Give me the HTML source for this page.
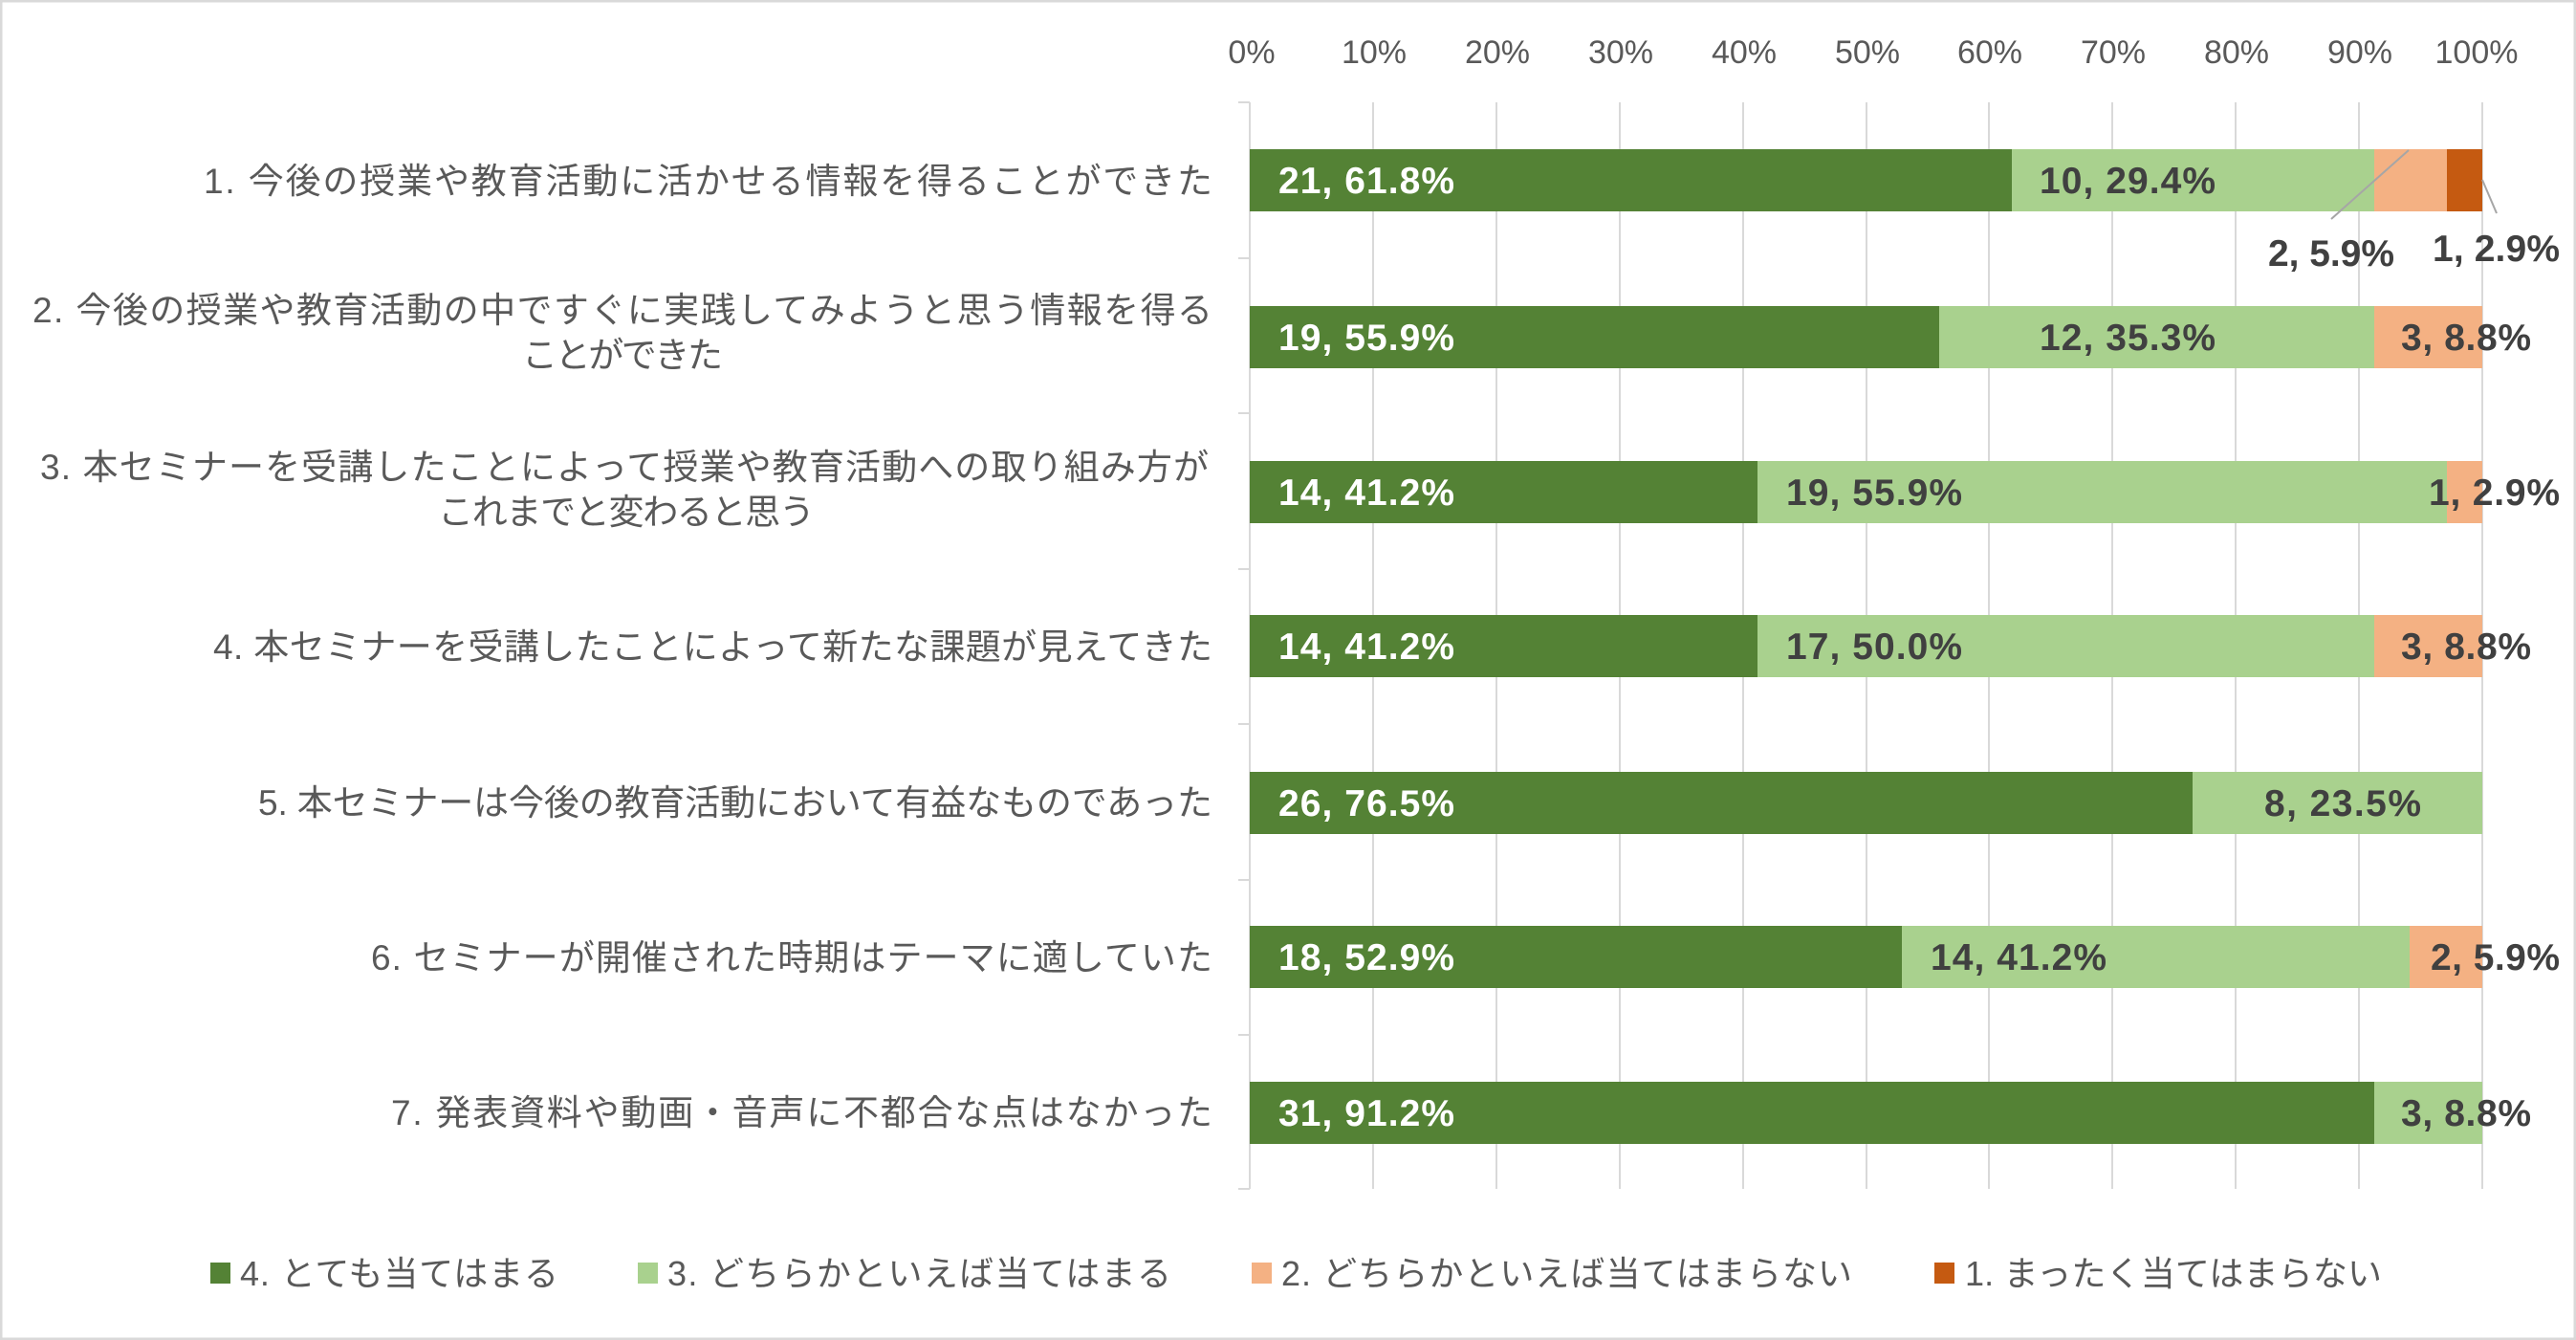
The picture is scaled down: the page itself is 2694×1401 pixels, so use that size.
<!DOCTYPE html>
<html><head><meta charset="utf-8"><style>
html,body{margin:0;padding:0;background:#fff}
svg{display:block}
text{font-family:"Liberation Sans","Noto Sans CJK JP",sans-serif}
</style></head><body>
<svg width="2694" height="1401" viewBox="0 0 2694 1401" xmlns="http://www.w3.org/2000/svg">
<rect x="1" y="1" width="2692" height="1399" fill="#fff" stroke="#d9d9d9" stroke-width="3"/>
<g stroke="#d9d9d9" stroke-width="2">
<line x1="1436" y1="107" x2="1436" y2="1243"/><line x1="1565" y1="107" x2="1565" y2="1243"/>
<line x1="1694" y1="107" x2="1694" y2="1243"/><line x1="1823" y1="107" x2="1823" y2="1243"/>
<line x1="1952" y1="107" x2="1952" y2="1243"/><line x1="2080" y1="107" x2="2080" y2="1243"/>
<line x1="2209" y1="107" x2="2209" y2="1243"/><line x1="2338" y1="107" x2="2338" y2="1243"/>
<line x1="2467" y1="107" x2="2467" y2="1243"/><line x1="2596" y1="107" x2="2596" y2="1243"/>
<line x1="1307" y1="107" x2="1307" y2="1243"/>
<line x1="1295" y1="107" x2="1307" y2="107"/><line x1="1295" y1="270" x2="1307" y2="270"/>
<line x1="1295" y1="432" x2="1307" y2="432"/><line x1="1295" y1="595" x2="1307" y2="595"/>
<line x1="1295" y1="757" x2="1307" y2="757"/><line x1="1295" y1="920" x2="1307" y2="920"/>
<line x1="1295" y1="1082" x2="1307" y2="1082"/><line x1="1295" y1="1243" x2="1307" y2="1243"/>
</g>
<g font-size="34" fill="#595959" text-anchor="middle">
<text x="1309" y="66">0%</text><text x="1437" y="66">10%</text><text x="1566" y="66">20%</text>
<text x="1695" y="66">30%</text><text x="1824" y="66">40%</text><text x="1953" y="66">50%</text>
<text x="2081" y="66">60%</text><text x="2210" y="66">70%</text><text x="2339" y="66">80%</text>
<text x="2468" y="66">90%</text><text x="2590" y="66">100%</text>
</g>
<g>
<rect x="1307" y="156" width="797" height="65" fill="#548235"/><rect x="2104" y="156" width="379" height="65" fill="#A9D18E"/><rect x="2483" y="156" width="76" height="65" fill="#F4B183"/><rect x="2559" y="156" width="37" height="65" fill="#C55A11"/>
<rect x="1307" y="320" width="721" height="65" fill="#548235"/><rect x="2028" y="320" width="455" height="65" fill="#A9D18E"/><rect x="2483" y="320" width="113" height="65" fill="#F4B183"/>
<rect x="1307" y="482" width="531" height="65" fill="#548235"/><rect x="1838" y="482" width="721" height="65" fill="#A9D18E"/><rect x="2559" y="482" width="37" height="65" fill="#F4B183"/>
<rect x="1307" y="643" width="531" height="65" fill="#548235"/><rect x="1838" y="643" width="645" height="65" fill="#A9D18E"/><rect x="2483" y="643" width="113" height="65" fill="#F4B183"/>
<rect x="1307" y="807" width="986" height="65" fill="#548235"/><rect x="2293" y="807" width="303" height="65" fill="#A9D18E"/>
<rect x="1307" y="968" width="682" height="65" fill="#548235"/><rect x="1989" y="968" width="531" height="65" fill="#A9D18E"/><rect x="2520" y="968" width="76" height="65" fill="#F4B183"/>
<rect x="1307" y="1131" width="1176" height="65" fill="#548235"/><rect x="2483" y="1131" width="113" height="65" fill="#A9D18E"/>
</g>
<g stroke="#a6a6a6" stroke-width="2"><line x1="2519" y1="157" x2="2438" y2="229"/><line x1="2596" y1="188" x2="2611" y2="223"/></g>
<g font-size="39" font-weight="bold">
<g fill="#fff">
<text x="1337" y="202" textLength="184">21, 61.8%</text>
<text x="1337" y="366" textLength="184">19, 55.9%</text>
<text x="1337" y="528" textLength="184">14, 41.2%</text>
<text x="1337" y="689" textLength="184">14, 41.2%</text>
<text x="1337" y="853" textLength="184">26, 76.5%</text>
<text x="1337" y="1014" textLength="184">18, 52.9%</text>
<text x="1337" y="1177" textLength="184">31, 91.2%</text>
</g>
<g fill="#404040">
<text x="2133" y="202" textLength="184">10, 29.4%</text>
<text x="2372" y="278" textLength="132">2, 5.9%</text>
<text x="2544" y="273" textLength="133">1, 2.9%</text>
<text x="2133" y="366" textLength="184">12, 35.3%</text>
<text x="2511" y="366" textLength="136">3, 8.8%</text>
<text x="1868" y="528" textLength="184">19, 55.9%</text>
<text x="2540" y="528" textLength="137">1, 2.9%</text>
<text x="1868" y="689" textLength="184">17, 50.0%</text>
<text x="2511" y="689" textLength="136">3, 8.8%</text>
<text x="2368" y="853" textLength="164">8, 23.5%</text>
<text x="2019" y="1014" textLength="184">14, 41.2%</text>
<text x="2542" y="1014" textLength="135">2, 5.9%</text>
<text x="2511" y="1177" textLength="136">3, 8.8%</text>
</g>
</g>
<g font-size="37" fill="#595959">
<text x="1268" y="202" text-anchor="end" textLength="1055">1. 今後の授業や教育活動に活かせる情報を得ることができた</text>
<text x="651" y="337" text-anchor="middle" textLength="1234">2. 今後の授業や教育活動の中ですぐに実践してみようと思う情報を得る</text>
<text x="651" y="384" text-anchor="middle" textLength="210">ことができた</text>
<text x="653" y="501" text-anchor="middle" textLength="1222">3. 本セミナーを受講したことによって授業や教育活動への取り組み方が</text>
<text x="655" y="548" text-anchor="middle" textLength="394">これまでと変わると思う</text>
<text x="1268" y="689" text-anchor="end" textLength="1045">4. 本セミナーを受講したことによって新たな課題が見えてきた</text>
<text x="1268" y="852" text-anchor="end" textLength="998">5. 本セミナーは今後の教育活動において有益なものであった</text>
<text x="1268" y="1014" text-anchor="end" textLength="880">6. セミナーが開催された時期はテーマに適していた</text>
<text x="1268" y="1176" text-anchor="end" textLength="859">7. 発表資料や動画・音声に不都合な点はなかった</text>
</g>
<rect x="220" y="1320" width="21" height="22" fill="#548235"/>
<rect x="667" y="1320" width="21" height="22" fill="#A9D18E"/>
<rect x="1309" y="1320" width="21" height="22" fill="#F4B183"/>
<rect x="2023" y="1320" width="21" height="22" fill="#C55A11"/>
<g font-size="36" fill="#595959">
<text x="251" y="1344" textLength="333">4. とても当てはまる</text>
<text x="698" y="1344" textLength="527">3. どちらかといえば当てはまる</text>
<text x="1340" y="1344" textLength="597">2. どちらかといえば当てはまらない</text>
<text x="2055" y="1344" textLength="436">1. まったく当てはまらない</text>
</g>
</svg>
</body></html>
